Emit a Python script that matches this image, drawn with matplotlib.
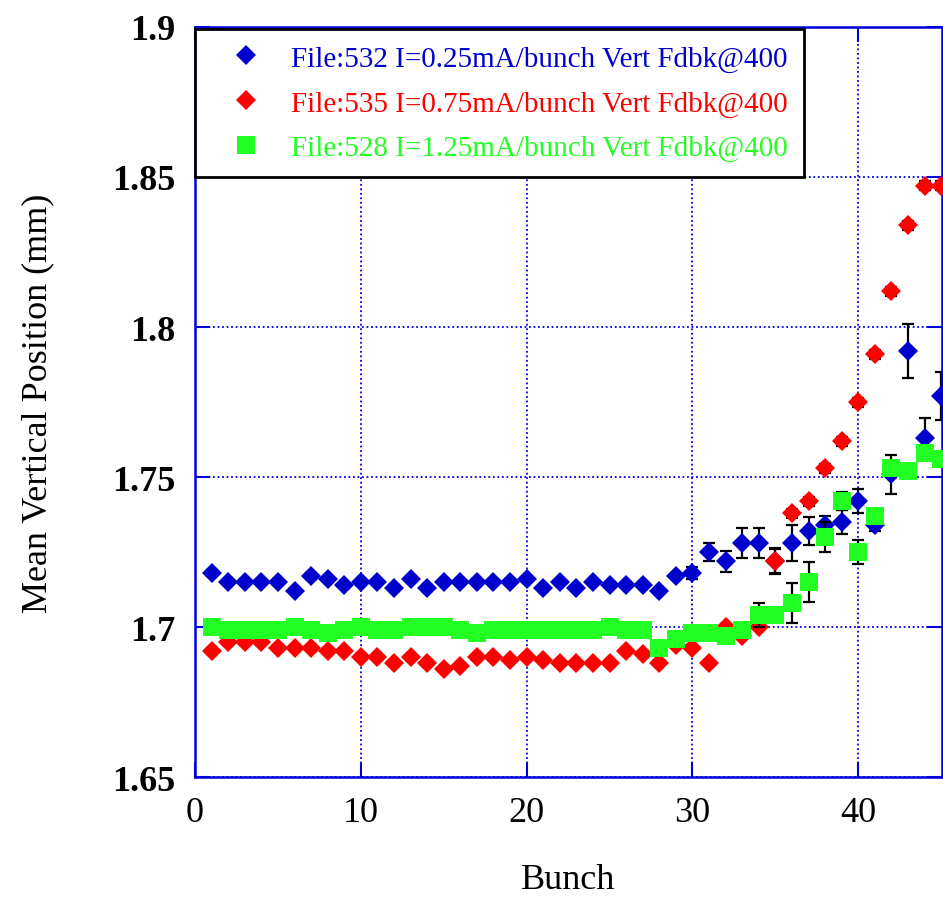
import matplotlib
matplotlib.use("Agg")
import matplotlib.pyplot as plt

plt.rcParams['font.family'] = ['Liberation Serif', 'DejaVu Serif']

bunch = list(range(1, 46))

# File:532, 0.25 mA/bunch
blue = [1.718, 1.715, 1.715, 1.715, 1.715, 1.712, 1.717, 1.716, 1.714, 1.715,
        1.715, 1.713, 1.716, 1.713, 1.715, 1.715, 1.715, 1.715, 1.715, 1.716,
        1.713, 1.715, 1.713, 1.715, 1.714, 1.714, 1.714, 1.712, 1.717, 1.718,
        1.725, 1.722, 1.728, 1.728, 1.722, 1.728, 1.732, 1.734, 1.735, 1.742,
        1.734, 1.751, 1.792, 1.763, 1.777]
blue_err = [0.001, 0.001, 0.001, 0.001, 0.001, 0.001, 0.001, 0.001, 0.001, 0.001,
            0.001, 0.001, 0.001, 0.001, 0.001, 0.001, 0.001, 0.001, 0.001, 0.001,
            0.001, 0.001, 0.001, 0.001, 0.001, 0.001, 0.001, 0.001, 0.001, 0.002,
            0.003, 0.0035, 0.005, 0.005, 0.004, 0.006, 0.0047, 0.003, 0.004, 0.004,
            0.002, 0.0065, 0.009, 0.0067, 0.008]

# File:535, 0.75 mA/bunch
red = [1.692, 1.695, 1.695, 1.695, 1.693, 1.693, 1.693, 1.692, 1.692, 1.690,
       1.690, 1.688, 1.690, 1.688, 1.686, 1.687, 1.690, 1.690, 1.689, 1.690,
       1.689, 1.688, 1.688, 1.688, 1.688, 1.692, 1.691, 1.688, 1.694, 1.693,
       1.688, 1.700, 1.697, 1.700, 1.722, 1.738, 1.742, 1.753, 1.762, 1.775,
       1.791, 1.812, 1.834, 1.847, 1.847]
red_err = [0.001, 0.001, 0.001, 0.001, 0.001, 0.001, 0.001, 0.001, 0.001, 0.001,
           0.001, 0.001, 0.001, 0.001, 0.001, 0.001, 0.001, 0.001, 0.001, 0.001,
           0.001, 0.001, 0.001, 0.001, 0.001, 0.001, 0.001, 0.001, 0.001, 0.001,
           0.001, 0.001, 0.001, 0.001, 0.0043, 0.0015, 0.0015, 0.0015, 0.0015, 0.0015,
           0.0015, 0.0015, 0.0015, 0.0015, 0.0015]

# File:528, 1.25 mA/bunch
green = [1.700, 1.699, 1.699, 1.699, 1.699, 1.700, 1.699, 1.698, 1.699, 1.700,
         1.699, 1.699, 1.700, 1.700, 1.700, 1.699, 1.698, 1.699, 1.699, 1.699,
         1.699, 1.699, 1.699, 1.699, 1.700, 1.699, 1.699, 1.693, 1.696, 1.698,
         1.698, 1.697, 1.699, 1.704, 1.704, 1.708, 1.715, 1.730, 1.742, 1.725,
         1.737, 1.753, 1.752, 1.758, 1.756]
green_err = [0.0005, 0.0005, 0.0005, 0.0005, 0.0005, 0.0005, 0.0005, 0.0005, 0.0005, 0.0005,
             0.0005, 0.0005, 0.0005, 0.0005, 0.0005, 0.0005, 0.0005, 0.0005, 0.0005, 0.0005,
             0.0005, 0.0005, 0.0005, 0.0005, 0.0005, 0.0005, 0.0005, 0.0005, 0.0005, 0.0005,
             0.0005, 0.0005, 0.002, 0.004, 0.002, 0.0067, 0.0068, 0.005, 0.003, 0.004,
             0.001, 0.0025, 0.001, 0.001, 0.001]

labels = ["File:532 I=0.25mA/bunch Vert Fdbk@400",
          "File:535 I=0.75mA/bunch Vert Fdbk@400",
          "File:528 I=1.25mA/bunch Vert Fdbk@400"]
colors = ["#0000cc", "#ff0000", "#22ff22"]
markers = ["D", "D", "s"]
sizes = [10.5, 10, 13.5]

fig = plt.figure(figsize=(9.43, 9.03), dpi=100)
ax = fig.add_axes([0.2068, 0.1384, 0.7922, 0.8306])

series = [(blue, blue_err), (red, red_err), (green, green_err)]
handles = []
for i, (vals, errs) in enumerate(series):
    ax.errorbar(bunch, vals, yerr=errs, fmt="none", ecolor="black",
                elinewidth=1.6, capsize=4, capthick=1.6, zorder=2 + i)
    h, = ax.plot(bunch, vals, linestyle="none", marker=markers[i],
                 markersize=sizes[i], color=colors[i], markeredgewidth=0,
                 label=labels[i], zorder=2.5 + i)
    handles.append(h)

ax.set_xlim(0, 45.05)
ax.set_ylim(1.65, 1.9)
ax.set_xticks([0, 10, 20, 30, 40])
ax.set_yticks([1.65, 1.7, 1.75, 1.8, 1.85, 1.9])
ax.set_yticklabels(["1.65", "1.7", "1.75", "1.8", "1.85", "1.9"])

ax.grid(True, color="#0000dd", linestyle=(0, (1, 1.5)), linewidth=1.3)
ax.set_axisbelow(True)
for s in ax.spines.values():
    s.set_color("#0000dd")
    s.set_linewidth(1.8)

ax.tick_params(direction="in", length=11, width=1.5, color="#0000dd",
               top=True, right=True, labelsize=26, pad=14)
for t in ax.get_yticklabels():
    t.set_fontweight("bold")

ax.set_xlabel("Bunch", fontsize=26, labelpad=24)
ax.set_ylabel("Mean Vertical Position (mm)", fontsize=26, labelpad=42)

leg = ax.legend(handles=handles, loc="upper left", bbox_to_anchor=(0.0, 0.997),
                fontsize=21, frameon=True, fancybox=False, shadow=False,
                borderaxespad=0.0, handletextpad=0.35, labelspacing=0.62,
                borderpad=0.55, handlelength=2.4)
leg.get_frame().set_edgecolor("black")
leg.get_frame().set_linewidth(2)
leg.get_frame().set_alpha(1)
leg.set_zorder(10)
for txt, c in zip(leg.get_texts(), colors):
    txt.set_color(c)

fig.savefig("out.png", dpi=100)
